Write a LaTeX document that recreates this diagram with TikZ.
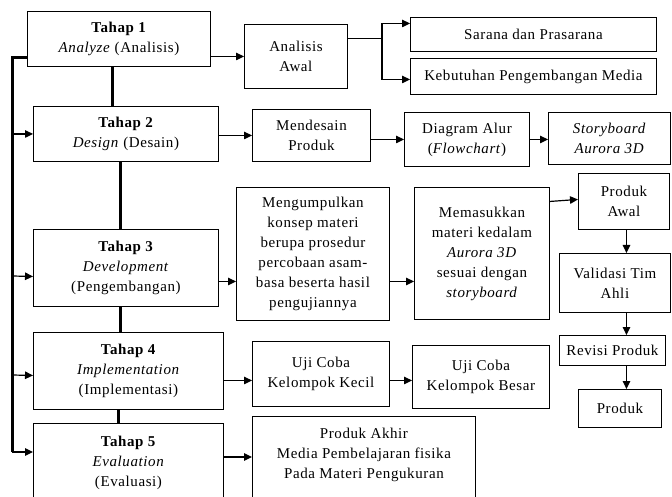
\documentclass[tikz,border=0pt]{standalone}
\usepackage{fontspec}
\setmainfont{Liberation Serif}[LetterSpace=4]
\usepackage{tikz}
\usetikzlibrary{arrows.meta, positioning, calc}
\tikzset{
  adbox/.style    = {rectangle, draw=black, line width=0.9pt, fill=white,
                     align=center, anchor=north west, inner sep=3pt,
                     font=\fontsize{15}{20}\selectfont},
  adstage/.style  = {adbox},
  adopen/.style   = {inner ysep=13pt, text depth=75pt},
  adarrow/.style  = {-{Triangle[length=8pt,width=7.5pt]}, line width=1.2pt},
  adline/.style   = {line width=1.2pt},
  adspine/.style  = {line width=3pt},
}

\begin{document}
\begin{tikzpicture}[x=1pt, y=-1pt]
  \useasboundingbox (0,0) rectangle (672,497);
  \clip (0,0) rectangle (672,497);

  % tahap (stages)
  \node[adstage, minimum width=183pt, minimum height=55pt] (t1) at (27,11)
        {\textbf{Tahap 1}\\ \textit{Analyze} (Analisis)};
  \node[adstage, minimum width=185pt, minimum height=55pt] (t2) at (33,106)
        {\textbf{Tahap 2}\\ \textit{Design} (Desain)};
  \node[adstage, minimum width=185pt, minimum height=77pt] (t3) at (33,229)
        {\textbf{Tahap 3}\\ \textit{Development}\\ (Pengembangan)};
  \node[adstage, minimum width=190pt, minimum height=77pt] (t4) at (33,332)
        {\textbf{Tahap 4}\\ \textit{Implementation}\\ (Implementasi)};
  \node[adstage, adopen, minimum width=190pt] (t5) at (33,423)
        {\textbf{Tahap 5}\\ \textit{Evaluation}\\ (Evaluasi)};

  % analisis
  \node[adbox, minimum width=103pt, minimum height=64pt] (aa) at (244,24)
        {Analisis\\ Awal};
  \node[adbox, minimum width=246pt, minimum height=34pt] (sp) at (410,17)
        {Sarana dan Prasarana};
  \node[adbox, minimum width=246pt, minimum height=36pt] (kpm) at (410,58)
        {Kebutuhan Pengembangan Media};

  % desain
  \node[adbox, minimum width=118pt, minimum height=52pt] (mp) at (252,109)
        {Mendesain\\ Produk};
  \node[adbox, minimum width=125pt, minimum height=54pt] (da) at (404,112)
        {Diagram Alur\\ (\textit{Flowchart})};
  \node[adbox, minimum width=122pt, minimum height=52pt] (sb) at (548,112)
        {\textit{Storyboard}\\ \textit{Aurora 3D}};

  % pengembangan
  \node[adbox, minimum width=153pt, minimum height=133pt] (mk) at (236,187)
        {Mengumpulkan\\ konsep materi\\ berupa prosedur\\ percobaan asam-\\
         basa beserta hasil\\ pengujiannya};
  \node[adbox, minimum width=135pt, minimum height=132pt] (mm) at (414,187)
        {Memasukkan\\ materi kedalam\\ \textit{Aurora 3D}\\ sesuai dengan\\
         \textit{storyboard}};
  \node[adbox, minimum width=91pt, minimum height=56pt] (pa) at (578,173)
        {Produk\\ Awal};
  \node[adbox, minimum width=111pt, minimum height=59pt] (vt) at (559,253)
        {Validasi Tim\\ Ahli};
  \node[adbox, minimum width=106pt, minimum height=30pt] (rp) at (559,335)
        {Revisi Produk};
  \node[adbox, minimum width=83pt, minimum height=38pt] (pr) at (578,389)
        {Produk};

  % implementasi, evaluasi
  \node[adbox, minimum width=137pt, minimum height=65pt] (uk) at (252,341)
        {Uji Coba\\ Kelompok Kecil};
  \node[adbox, minimum width=137pt, minimum height=63pt] (ub) at (412,345)
        {Uji Coba\\ Kelompok Besar};
  \node[adbox, adopen, inner ysep=12pt, minimum width=223pt] (ak) at (252,416)
        {Produk Akhir\\ Media Pembelajaran fisika\\ Pada Materi Pengukuran};

  % spine between stages
  \draw[adspine] ([xshift=-6.5pt]t1.south) -- ([xshift=-6.5pt]t1.south |- t2.north);
  \draw[adspine] ([xshift=-5.5pt]t2.south) -- ([xshift=-5.5pt]t2.south |- t3.north);
  \draw[adspine] ([xshift=-5.5pt]t3.south) -- ([xshift=-5.5pt]t3.south |- t4.north);
  \draw[adspine] ([xshift=-10pt]t4.south) -- ([xshift=-10pt]t4.south |- t5.north);

  % left bus
  \draw[adspine] ([yshift=-18.5pt]t1.west) -- ++(-15,0) coordinate (bus)
        -- ([yshift=-29pt]bus |- t5.north west);
  \draw[adarrow] (bus |- t2.west) -- (t2.west);
  \draw[adarrow] (bus |- 0,276) -- ([yshift=-8.5pt]t3.west);
  \draw[adarrow] (bus |- 0,375) -- ([yshift=-4.5pt]t4.west);
  \draw[adarrow] ([yshift=-29pt]bus |- t5.north west) -- ([yshift=-29pt]t5.north west);

  % stage outputs
  \draw[adarrow] (t1.east |- aa.west) -- (aa.west);
  \draw[adline] ([yshift=18pt]aa.east) -- ++(34,0) coordinate (fork);
  \draw[adarrow] (fork) |- ([yshift=11pt]sp.west);
  \draw[adarrow] (fork) |- ([yshift=-3pt]kpm.west);

  \draw[adarrow] (t2.east |- mp.west) -- (mp.west);
  \draw[adarrow] (mp.east |- da.west) -- (da.west);
  \draw[adarrow] (da.east) -- (sb.west |- da.east);

  \draw[adarrow] ([yshift=-13.5pt]t3.east) -- ([yshift=-13.5pt]t3.east -| mk.west);
  \draw[adarrow] ([yshift=-13.5pt]t3.east -| mk.east) -- ([yshift=-13.5pt]t3.east -| mm.west);
  \draw[adarrow] (mm.east |- pa.west) -- ([yshift=2pt]pa.west);
  \draw[adarrow] ([xshift=2.5pt]pa.south) -- ([xshift=2.5pt]pa.south |- vt.north);
  \draw[adarrow] ([xshift=2.5pt]pa.south |- vt.south) -- ([xshift=2.5pt]pa.south |- rp.north);
  \draw[adarrow] ([xshift=2.5pt]pa.south |- rp.south) -- ([xshift=2.5pt]pa.south |- pr.north);

  \draw[adarrow] ([yshift=-9.5pt]t4.east) -- ([yshift=-9.5pt]t4.east -| uk.west);
  \draw[adarrow] ([yshift=-9.5pt]t4.east -| uk.east) -- ([yshift=-9.5pt]t4.east -| ub.west);
  \draw[adarrow] ([yshift=-34pt]t5.north east) -- ([yshift=-34pt]t5.north east -| ak.west);
\end{tikzpicture}
\end{document}
